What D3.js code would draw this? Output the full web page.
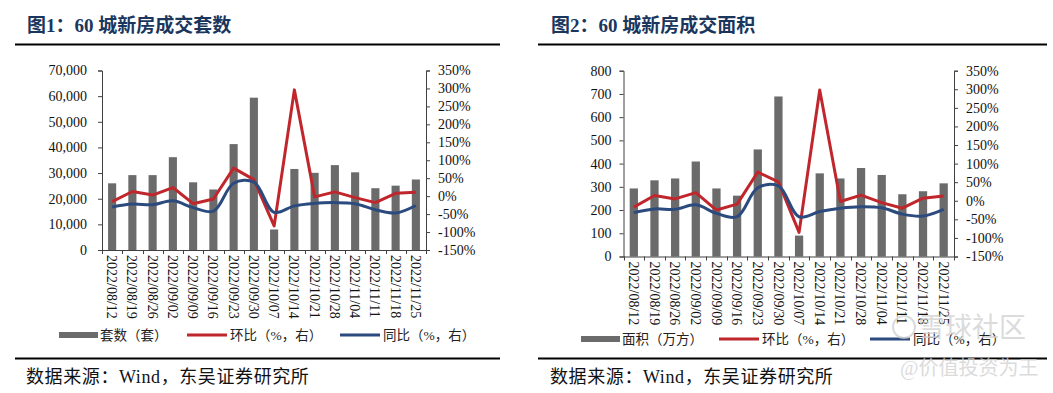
<!DOCTYPE html>
<html>
<head>
<meta charset="utf-8">
<script src="https://cdn.jsdelivr.net/npm/d3@7"></script>
<style>
  body { margin: 0; background: #fff; }
  svg { display: block; }
  text { font-family: "Liberation Serif", "Noto Sans CJK SC", serif; }
</style>
</head>
<body>
<svg id="svg" width="1053" height="393"></svg>
<script>
// data (weekly, 60 cities)
var categories = ["2022/08/12", "2022/08/19", "2022/08/26", "2022/09/02", "2022/09/09", "2022/09/16",
  "2022/09/23", "2022/09/30", "2022/10/07", "2022/10/14", "2022/10/21", "2022/10/28",
  "2022/11/04", "2022/11/11", "2022/11/18", "2022/11/25"];

var unitsSold = [26000, 29200, 29200, 36200, 26400, 23600, 41300, 59400, 8000, 31600, 30100, 33100, 30300, 24100, 25100, 27500];
var unitsMoM = [-15, 13, 3, 24, -21, -8, 78, 46, -83, 296, -2, 12, -4, -18, 8, 11];
var unitsYoY = [-30, -22, -24, -13, -32, -42, 36, 39, -45, -27, -20, -18, -21, -38, -47, -26];

var areaSold = [293, 328, 336, 409, 293, 262, 461, 689, 90, 358, 336, 381, 351, 268, 281, 315];
var areaMoM = [-17, 14, 5, 22, -25, -9, 77, 51, -85, 298, -2, 15, -5, -20, 7, 13];
var areaYoY = [-32, -22, -23, -11, -34, -43, 35, 40, -43, -29, -20, -16, -19, -36, -41, -23];

var unitsTicks = [0, 10000, 20000, 30000, 40000, 50000, 60000, 70000];
var areaTicks = [0, 100, 200, 300, 400, 500, 600, 700, 800];
var pctTicks = [-150, -100, -50, 0, 50, 100, 150, 200, 250, 300, 350];

var barColor = "#6b6b6b";
var momColor = "#c0272d";
var yoyColor = "#2b4a7e";
var axisColor = "#404040";

var svg = d3.select("#svg");

function drawChart(cfg) {
  var g = svg.append("g");

  // title + rules
  g.append("text")
    .attr("x", cfg.left).attr("y", 32)
    .attr("font-size", 19).attr("font-weight", "bold")
    .attr("fill", "#1b365d")
    .text(cfg.title);
  g.append("line")
    .attr("x1", cfg.ruleX1).attr("x2", cfg.ruleX2)
    .attr("y1", 44.5).attr("y2", 44.5)
    .attr("stroke", "#000").attr("stroke-width", 2.2);
  g.append("line")
    .attr("x1", cfg.ruleX1).attr("x2", cfg.ruleX2)
    .attr("y1", 358.5).attr("y2", 358.5)
    .attr("stroke", "#000").attr("stroke-width", 2.2);
  g.append("text")
    .attr("x", cfg.left - 1).attr("y", 383)
    .attr("font-size", 18).attr("fill", "#111")
    .attr("letter-spacing", 0.6)
    .text("数据来源：Wind，东吴证券研究所");

  var x = d3.scaleBand()
    .domain(categories)
    .range([cfg.x0, cfg.x1])
    .paddingInner(0.6)
    .paddingOuter(0.3);
  var y = d3.scaleLinear().domain([0, cfg.yMax]).range([cfg.y0, cfg.y1]);
  var yr = d3.scaleLinear().domain([-150, 350]).range([cfg.y0, cfg.y1]);

  // bars
  g.selectAll("rect.bar")
    .data(cfg.bars)
    .enter().append("rect")
    .attr("class", "bar")
    .attr("x", function(d, i) { return x(categories[i]); })
    .attr("width", x.bandwidth())
    .attr("y", function(d) { return y(d); })
    .attr("height", function(d) { return y(0) - y(d); })
    .attr("fill", barColor);

  // axes
  var leftAxis = g.append("g")
    .attr("transform", "translate(" + cfg.x0 + ",0)")
    .call(d3.axisLeft(y).tickValues(cfg.ticks).tickSize(4).tickPadding(cfg.leftPad)
      .tickFormat(d3.format(",")));
  var rightAxis = g.append("g")
    .attr("transform", "translate(" + cfg.x1 + ",0)")
    .call(d3.axisRight(yr).tickValues(pctTicks).tickSize(4).tickPadding(8)
      .tickFormat(function(d) { return d + "%"; }));
  [leftAxis, rightAxis].forEach(function(a) {
    a.selectAll("path, line").attr("stroke", axisColor);
    a.selectAll("text").attr("font-size", 14).attr("fill", "#111")
      .attr("font-family", "Liberation Serif");
  });

  // x axis: line, ticks between categories, rotated labels
  g.append("line")
    .attr("x1", cfg.x0).attr("x2", cfg.x1)
    .attr("y1", y(0) + 0.5).attr("y2", y(0) + 0.5)
    .attr("stroke", axisColor);
  g.selectAll("line.xtick")
    .data(d3.range(categories.length + 1))
    .enter().append("line")
    .attr("class", "xtick")
    .attr("x1", function(i) { return Math.round(cfg.x0 + i * x.step()) + 0.5; })
    .attr("x2", function(i) { return Math.round(cfg.x0 + i * x.step()) + 0.5; })
    .attr("y1", y(0)).attr("y2", y(0) + 4)
    .attr("stroke", axisColor);
  g.selectAll("text.xlab")
    .data(categories)
    .enter().append("text")
    .attr("class", "xlab")
    .attr("font-size", 14).attr("fill", "#111")
    .attr("font-family", "Liberation Serif")
    .attr("dy", "0.35em")
    .attr("transform", function(d) {
      return "translate(" + (x(d) + x.bandwidth() / 2) + "," + (y(0) + 5) + ") rotate(90)";
    })
    .text(function(d) { return d; });

  // lines on the right axis
  var cx = function(d, i) { return x(categories[i]) + x.bandwidth() / 2; };
  g.append("path")
    .datum(cfg.mom)
    .attr("d", d3.line().x(cx).y(function(d) { return yr(d); }))
    .attr("fill", "none").attr("stroke", momColor).attr("stroke-width", 3)
    .attr("stroke-linejoin", "round");
  g.append("path")
    .datum(cfg.yoy)
    .attr("d", d3.line().x(cx).y(function(d) { return yr(d); }).curve(d3.curveCatmullRom.alpha(0.5)))
    .attr("fill", "none").attr("stroke", yoyColor).attr("stroke-width", 3)
    .attr("stroke-linejoin", "round");

  // legend
  var ly = cfg.legendY;
  g.append("rect")
    .attr("x", cfg.legendX[0]).attr("y", ly - 3)
    .attr("width", 39).attr("height", 6)
    .attr("fill", barColor);
  g.append("line")
    .attr("x1", cfg.legendX[1]).attr("x2", cfg.legendX[1] + 40)
    .attr("y1", ly).attr("y2", ly)
    .attr("stroke", momColor).attr("stroke-width", 3);
  g.append("line")
    .attr("x1", cfg.legendX[2]).attr("x2", cfg.legendX[2] + 40)
    .attr("y1", ly).attr("y2", ly)
    .attr("stroke", yoyColor).attr("stroke-width", 3);
  var labels = [cfg.barLabel, "环比（%，右）", "同比（%，右）"];
  var offs = [41, 43, 43];
  labels.forEach(function(t, i) {
    g.append("text")
      .attr("x", cfg.legendX[i] + offs[i]).attr("y", ly)
      .attr("dy", "0.35em")
      .attr("font-size", 13.5).attr("fill", "#222")
      .text(t);
  });
}

drawChart({
  title: "图1：60 城新房成交套数",
  left: 27, ruleX1: 15, ruleX2: 500,
  x0: 102, x1: 426, y0: 250, y1: 70.5,
  yMax: 70000, ticks: unitsTicks, leftPad: 11,
  bars: unitsSold, mom: unitsMoM, yoy: unitsYoY,
  legendY: 335, legendX: [59, 187, 340],
  barLabel: "套数（套）"
});

drawChart({
  title: "图2：60 城新房成交面积",
  left: 551, ruleX1: 538, ruleX2: 1047,
  x0: 623.5, x1: 954, y0: 256.5, y1: 70.7,
  yMax: 800, ticks: areaTicks, leftPad: 8,
  bars: areaSold, mom: areaMoM, yoy: areaYoY,
  legendY: 339, legendX: [581, 719, 870],
  barLabel: "面积（万方）"
});

// watermark
var wm = svg.append("g").attr("opacity", 0.75);
wm.append("circle")
  .attr("cx", 904).attr("cy", 327).attr("r", 11)
  .attr("fill", "none").attr("stroke", "#cfcfcf").attr("stroke-width", 2);
wm.append("text")
  .attr("x", 918).attr("y", 337)
  .attr("font-size", 27).attr("fill", "#d0d0d0")
  .attr("font-family", "Noto Sans CJK SC")
  .text("雪球社区");
wm.append("text")
  .attr("x", 900).attr("y", 375)
  .attr("font-size", 20).attr("fill", "#d0d0d0")
  .attr("font-family", "Noto Sans CJK SC")
  .text("@价值投资为王");
</script>
</body>
</html>
